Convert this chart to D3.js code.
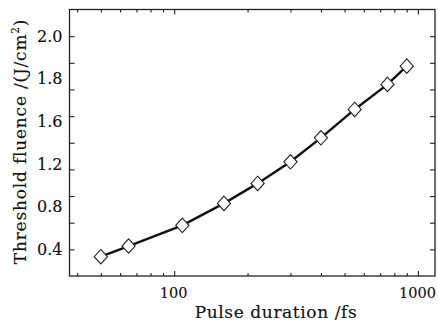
<!DOCTYPE html>
<html>
<head>
<meta charset="utf-8">
<script src="https://cdn.jsdelivr.net/npm/d3@7"></script>
<style>
  html, body { margin: 0; padding: 0; background: #fff; }
  svg { display: block; }
  text { font-family: "DejaVu Serif", serif; fill: #111; stroke: #111; stroke-width: 0.15px; }
</style>
</head>
<body>
<svg id="chart" width="438" height="326"></svg>
<script>
// ---- data ----
const pulseDuration = [50, 65, 108, 160, 220, 300, 400, 550, 750, 900];           // fs
const thresholdFluence = [0.345, 0.425, 0.58, 0.745, 0.895, 1.057, 1.237, 1.45, 1.638, 1.775]; // J/cm^2
const xMajorTicks = [100, 1000];
const xMinorTicks = [40, 50, 60, 70, 80, 90, 200, 300, 400, 500, 600, 700, 800, 900];
const yTickMarks = [0.4, 0.6, 0.8, 1.0, 1.2, 1.4, 1.6, 1.8, 2.0];
const yTickLabels = ["0.4", "0.8", "1.2", "1.6", "1.8", "2.0"];
const xTitle = "Pulse duration /fs";
const yTitle = "Threshold fluence /(J/cm";

// ---- layout ----
const L = 69.5, R = 435, T = 9.5, B = 276;
const svg = d3.select("#chart");

const x = d3.scaleLog().domain([37.2, 1175]).range([L, R]);
const y = d3.scaleLinear().domain([0.2, 2.2]).range([B, T]);
const yLab = d3.scalePoint().domain(yTickLabels).range([y(0.4), y(2.0)]);

function styleAxis(g) {
  g.select(".domain").remove();
  g.selectAll(".tick line").attr("stroke", "#222").attr("stroke-width", 1.1);
}

// bottom & top ticks (inward)
svg.append("g").attr("transform", `translate(0,${B})`)
  .call(d3.axisBottom(x).tickValues(xMajorTicks).tickSize(-5).tickPadding(12).tickFormat(d3.format("d")))
  .call(styleAxis)
  .call(g => g.selectAll("text").attr("font-size", 14.5).attr("dx", -1));
svg.append("g").attr("transform", `translate(0,${B})`)
  .call(d3.axisBottom(x).tickValues(xMinorTicks).tickSize(-3).tickFormat(""))
  .call(styleAxis);
svg.append("g").attr("transform", `translate(0,${T})`)
  .call(d3.axisTop(x).tickValues(xMajorTicks).tickSize(-5).tickFormat(""))
  .call(styleAxis);
svg.append("g").attr("transform", `translate(0,${T})`)
  .call(d3.axisTop(x).tickValues(xMinorTicks).tickSize(-3).tickFormat(""))
  .call(styleAxis);

// left & right tick marks (inward)
svg.append("g").attr("transform", `translate(${L},0)`)
  .call(d3.axisLeft(y).tickValues(yTickMarks).tickSize(-5).tickFormat(""))
  .call(styleAxis);
svg.append("g").attr("transform", `translate(${R},0)`)
  .call(d3.axisRight(y).tickValues(yTickMarks).tickSize(-5).tickFormat(""))
  .call(styleAxis);

// left tick labels
svg.append("g").attr("transform", `translate(${L},0)`)
  .call(d3.axisLeft(yLab).tickSize(0).tickPadding(7))
  .call(g => g.select(".domain").remove())
  .call(g => g.selectAll("text").attr("font-size", 16));

// frame
svg.append("rect").attr("x", L).attr("y", T).attr("width", R - L).attr("height", B - T)
  .attr("fill", "none").attr("stroke", "#222").attr("stroke-width", 1.3);

// line
const pts = pulseDuration.map((d, i) => [d, thresholdFluence[i]]);
svg.append("path").datum(pts)
  .attr("fill", "none").attr("stroke", "#111").attr("stroke-width", 2.4)
  .attr("d", d3.line().x(d => x(d[0])).y(d => y(d[1])));

// diamond markers
svg.append("g").selectAll("path").data(pts).join("path")
  .attr("transform", d => `translate(${x(d[0])},${y(d[1])})`)
  .attr("d", "M0,-7.2L6.6,0L0,7.2L-6.6,0Z")
  .attr("fill", "#fff").attr("stroke", "#222").attr("stroke-width", 1.1);

// axis titles
svg.append("text").attr("x", 276).attr("y", 318)
  .attr("text-anchor", "middle").attr("font-size", 17).attr("letter-spacing", 0.6).text(xTitle);
const yt = svg.append("text").attr("transform", `translate(26,${141.5}) rotate(-90)`)
  .attr("text-anchor", "middle").attr("font-size", 17).attr("letter-spacing", 0.8);
yt.append("tspan").text(yTitle);
yt.append("tspan").attr("font-size", 10.5).attr("dy", "-0.7em").text("2");
yt.append("tspan").attr("dy", "0.42em").text(")");
</script>
</body>
</html>
